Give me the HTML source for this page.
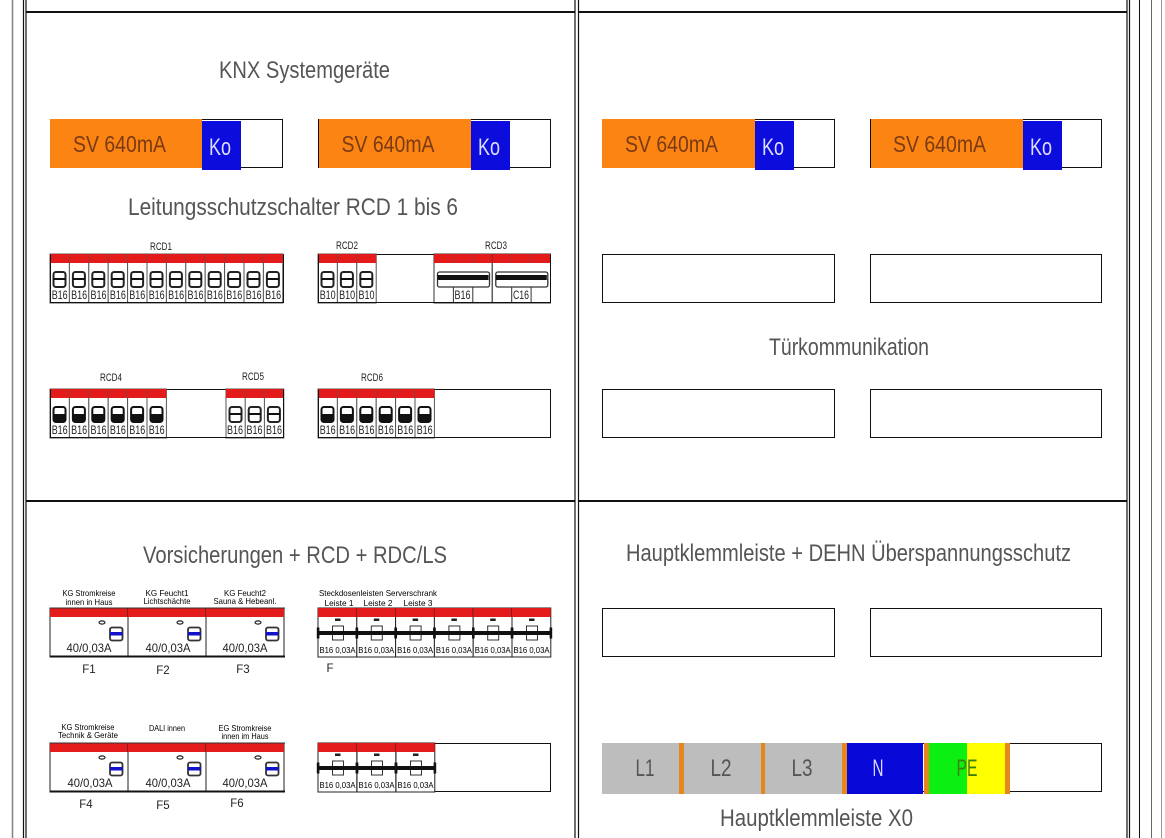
<!DOCTYPE html>
<html><head><meta charset="utf-8"><title>Verteilerplan</title>
<style>
html,body{margin:0;padding:0;background:#fff}
svg{display:block}
text{font-family:"Liberation Sans",sans-serif;text-anchor:middle;fill:#333}
.t{font-size:24px;fill:#555}
.sv{font-size:23px;fill:#7a3a14}
.ko{font-size:24px;fill:#dcdcff}
.s{font-size:11.5px;fill:#222}
.m{font-size:11px;fill:#222}
.tiny{font-size:8.5px;fill:#000}
.v{font-size:12px;fill:#222}
.f{font-size:11.5px;fill:#222}
.kl{font-size:24px;fill:#555}
</style></head>
<body>
<svg width="1165" height="838" viewBox="0 0 1165 838" xmlns="http://www.w3.org/2000/svg">
<defs>
<g id="cell">
<rect x="0" y="0" width="19.4" height="49" fill="#fff" stroke="#555" stroke-width="1"/>
<rect x="0" y="0" width="19.4" height="9" fill="#e41b1b"/>
<rect x="3.5" y="18" width="12" height="15" rx="2.5" fill="#fff" stroke="#222" stroke-width="2"/>
<rect x="3.5" y="24" width="12" height="2" fill="#111"/>
</g>
<g id="cellb">
<rect x="0" y="0" width="19.4" height="49" fill="#fff" stroke="#555" stroke-width="1"/>
<rect x="0" y="0" width="19.4" height="9" fill="#e41b1b"/>
<rect x="3.5" y="18" width="12" height="15" rx="2.5" fill="#fff" stroke="#111" stroke-width="2"/>
<rect x="3.5" y="25" width="12" height="8" fill="#111"/>
</g>
<g id="long">
<rect x="0" y="0" width="58.2" height="49" fill="#fff" stroke="#333" stroke-width="1"/>
<rect x="0" y="0" width="58.2" height="9" fill="#e41b1b"/>
<path d="M19.4 0V9M38.8 0V9" stroke="#a33" stroke-width="1"/>
<path d="M19.4 33V49M38.8 33V49" stroke="#333" stroke-width="1"/>
<rect x="3.5" y="18" width="52" height="15" rx="2" fill="#fff" stroke="#333" stroke-width="1.3"/>
<rect x="3.5" y="21" width="51" height="5" fill="#111"/>
</g>
<g id="rcd">
<rect x="0" y="0" width="78" height="49" fill="#fff" stroke="#222" stroke-width="1"/>
<rect x="0" y="0" width="78" height="9" fill="#e41b1b"/>
<ellipse cx="52" cy="14.5" rx="3" ry="1.6" fill="#fff" stroke="#222" stroke-width="1.2"/>
<rect x="60" y="19.5" width="12.5" height="13" rx="2" fill="#fff" stroke="#333" stroke-width="1.8"/>
<rect x="60" y="24" width="12.5" height="3.5" fill="#1212c8"/>
</g>
<g id="ls">
<rect x="0" y="0" width="38.8" height="49" fill="#fff" stroke="#222" stroke-width="1"/>
<rect x="0" y="0" width="38.8" height="9" fill="#e41b1b"/>
<rect x="17" y="10.5" width="5.5" height="2.5" fill="#222"/>
<rect x="14.5" y="18" width="11" height="14" fill="#fff" stroke="#333" stroke-width="1"/>
<rect x="0" y="23" width="38.8" height="4" fill="#111"/>
<rect x="-1.2" y="19.5" width="2.6" height="11" fill="#111"/>
<rect x="37.6" y="19.5" width="2.6" height="11" fill="#111"/>
</g>
</defs>

<!-- frame -->
<g fill="none" stroke="#111">
<path d="M12.5 0V838" stroke="#888" stroke-width="1.6"/>
<path d="M23.5 0V838M26 0V838" stroke-width="1.2"/>
<path d="M575 0V838M578.5 0V838" stroke-width="1.2"/>
<path d="M1127 0V838M1129.5 0V838" stroke-width="1.2"/>
<path d="M1139.5 0V838" stroke-width="1"/>
<path d="M1151.5 0V838" stroke="#666" stroke-width="1"/>
<path d="M1161.5 0V838" stroke="#999" stroke-width="1"/>
<path d="M26 12H575M578 12H1127M26 501H575M578 501H1127" stroke-width="2"/>
</g>

<!-- boxes -->
<g fill="#fff" stroke="#111" stroke-width="1">
<rect x="50.5" y="119.5" width="232" height="48"/>
<rect x="318.5" y="119.5" width="232" height="48"/>
<rect x="602.5" y="119.5" width="232" height="48"/>
<rect x="870.5" y="119.5" width="231" height="48"/>
<rect x="602.5" y="254.5" width="232" height="48"/>
<rect x="870.5" y="254.5" width="231" height="48"/>
<rect x="602.5" y="389.5" width="232" height="48"/>
<rect x="870.5" y="389.5" width="231" height="48"/>
<rect x="602.5" y="608.5" width="232" height="48"/>
<rect x="870.5" y="608.5" width="231" height="48"/>
<rect x="50.5" y="254.5" width="233" height="48"/>
<rect x="318.5" y="254.5" width="232" height="48"/>
<rect x="50.5" y="389.5" width="233" height="48"/>
<rect x="318.5" y="389.5" width="232" height="48"/>
<rect x="318.5" y="608.5" width="232" height="48"/>
<rect x="318.5" y="743.5" width="232" height="48"/>
<rect x="602.5" y="743.5" width="499" height="48"/>
</g>
<g fill="#fb8412">
<rect x="50" y="119" width="152" height="49"/>
<rect x="319" y="119" width="152" height="49"/>
<rect x="602" y="119" width="153" height="49"/>
<rect x="871" y="119" width="152" height="49"/>
</g>
<g fill="#0c0cdc">
<rect x="202" y="121" width="39" height="49"/>
<rect x="471" y="121" width="39" height="49"/>
<rect x="755" y="121" width="39" height="49"/>
<rect x="1023" y="121" width="39" height="49"/>
</g>

<!-- titles -->
<text class="t" x="304.5" y="78" textLength="171" lengthAdjust="spacingAndGlyphs">KNX Systemgeräte</text>
<text class="t" x="293" y="215" textLength="330" lengthAdjust="spacingAndGlyphs">Leitungsschutzschalter RCD 1 bis 6</text>
<text class="t" x="849" y="355" textLength="160" lengthAdjust="spacingAndGlyphs">Türkommunikation</text>
<text class="t" x="295" y="563" textLength="304" lengthAdjust="spacingAndGlyphs">Vorsicherungen + RCD + RDC/LS</text>
<text class="t" x="848.5" y="561" textLength="445" lengthAdjust="spacingAndGlyphs">Hauptklemmleiste + DEHN Überspannungsschutz</text>
<text class="t" x="816.5" y="826" textLength="193" lengthAdjust="spacingAndGlyphs">Hauptklemmleiste X0</text>

<text class="sv" x="119.5" y="152" textLength="93" lengthAdjust="spacingAndGlyphs">SV 640mA</text>
<text class="sv" x="388" y="152" textLength="93" lengthAdjust="spacingAndGlyphs">SV 640mA</text>
<text class="sv" x="671.5" y="152" textLength="93" lengthAdjust="spacingAndGlyphs">SV 640mA</text>
<text class="sv" x="939.5" y="152" textLength="93" lengthAdjust="spacingAndGlyphs">SV 640mA</text>
<text class="ko" x="220" y="155" textLength="22" lengthAdjust="spacingAndGlyphs">Ko</text>
<text class="ko" x="489" y="155" textLength="22" lengthAdjust="spacingAndGlyphs">Ko</text>
<text class="ko" x="773" y="155" textLength="22" lengthAdjust="spacingAndGlyphs">Ko</text>
<text class="ko" x="1041" y="155" textLength="22" lengthAdjust="spacingAndGlyphs">Ko</text>

<!-- RCD1 -->
<use href="#cell" x="50" y="254"/><use href="#cell" x="69.4" y="254"/><use href="#cell" x="88.8" y="254"/><use href="#cell" x="108.2" y="254"/><use href="#cell" x="127.6" y="254"/><use href="#cell" x="147" y="254"/><use href="#cell" x="166.4" y="254"/><use href="#cell" x="185.8" y="254"/><use href="#cell" x="205.2" y="254"/><use href="#cell" x="224.6" y="254"/><use href="#cell" x="244" y="254"/><use href="#cell" x="263.4" y="254"/>
<text class="m" x="161" y="250" textLength="22" lengthAdjust="spacingAndGlyphs">RCD1</text>
<text class="s" x="59.7" y="299" textLength="16" lengthAdjust="spacingAndGlyphs">B16</text>
<text class="s" x="79.1" y="299" textLength="16" lengthAdjust="spacingAndGlyphs">B16</text>
<text class="s" x="98.5" y="299" textLength="16" lengthAdjust="spacingAndGlyphs">B16</text>
<text class="s" x="117.9" y="299" textLength="16" lengthAdjust="spacingAndGlyphs">B16</text>
<text class="s" x="137.3" y="299" textLength="16" lengthAdjust="spacingAndGlyphs">B16</text>
<text class="s" x="156.7" y="299" textLength="16" lengthAdjust="spacingAndGlyphs">B16</text>
<text class="s" x="176.1" y="299" textLength="16" lengthAdjust="spacingAndGlyphs">B16</text>
<text class="s" x="195.5" y="299" textLength="16" lengthAdjust="spacingAndGlyphs">B16</text>
<text class="s" x="214.9" y="299" textLength="16" lengthAdjust="spacingAndGlyphs">B16</text>
<text class="s" x="234.3" y="299" textLength="16" lengthAdjust="spacingAndGlyphs">B16</text>
<text class="s" x="253.7" y="299" textLength="16" lengthAdjust="spacingAndGlyphs">B16</text>
<text class="s" x="273.1" y="299" textLength="16" lengthAdjust="spacingAndGlyphs">B16</text>

<!-- RCD2 / RCD3 -->
<use href="#cell" x="318" y="254"/><use href="#cell" x="337.4" y="254"/><use href="#cell" x="356.8" y="254"/>
<text class="m" x="347" y="249" textLength="22" lengthAdjust="spacingAndGlyphs">RCD2</text>
<text class="s" x="327.7" y="299" textLength="16" lengthAdjust="spacingAndGlyphs">B10</text>
<text class="s" x="347.1" y="299" textLength="16" lengthAdjust="spacingAndGlyphs">B10</text>
<text class="s" x="366.5" y="299" textLength="16" lengthAdjust="spacingAndGlyphs">B10</text>
<use href="#long" x="434" y="254"/><use href="#long" x="492.3" y="254"/>
<text class="m" x="496" y="249" textLength="22" lengthAdjust="spacingAndGlyphs">RCD3</text>
<text class="s" x="462.5" y="299" textLength="16" lengthAdjust="spacingAndGlyphs">B16</text>
<text class="s" x="521" y="299" textLength="16" lengthAdjust="spacingAndGlyphs">C16</text>

<!-- RCD4 / RCD5 -->
<use href="#cellb" x="50" y="389"/><use href="#cellb" x="69.4" y="389"/><use href="#cellb" x="88.8" y="389"/><use href="#cellb" x="108.2" y="389"/><use href="#cellb" x="127.6" y="389"/><use href="#cellb" x="147" y="389"/>
<use href="#cell" x="226" y="389"/><use href="#cell" x="245.2" y="389"/><use href="#cell" x="264.4" y="389"/>
<text class="m" x="111" y="381" textLength="22" lengthAdjust="spacingAndGlyphs">RCD4</text>
<text class="m" x="253" y="380" textLength="22" lengthAdjust="spacingAndGlyphs">RCD5</text>
<text class="s" x="59.7" y="434" textLength="16" lengthAdjust="spacingAndGlyphs">B16</text>
<text class="s" x="79.1" y="434" textLength="16" lengthAdjust="spacingAndGlyphs">B16</text>
<text class="s" x="98.5" y="434" textLength="16" lengthAdjust="spacingAndGlyphs">B16</text>
<text class="s" x="117.9" y="434" textLength="16" lengthAdjust="spacingAndGlyphs">B16</text>
<text class="s" x="137.3" y="434" textLength="16" lengthAdjust="spacingAndGlyphs">B16</text>
<text class="s" x="156.7" y="434" textLength="16" lengthAdjust="spacingAndGlyphs">B16</text>
<text class="s" x="235" y="434" textLength="16" lengthAdjust="spacingAndGlyphs">B16</text>
<text class="s" x="254.5" y="434" textLength="16" lengthAdjust="spacingAndGlyphs">B16</text>
<text class="s" x="274" y="434" textLength="16" lengthAdjust="spacingAndGlyphs">B16</text>

<!-- RCD6 -->
<use href="#cellb" x="318" y="389"/><use href="#cellb" x="337.4" y="389"/><use href="#cellb" x="356.8" y="389"/><use href="#cellb" x="376.2" y="389"/><use href="#cellb" x="395.6" y="389"/><use href="#cellb" x="415" y="389"/>
<text class="m" x="372" y="381" textLength="22" lengthAdjust="spacingAndGlyphs">RCD6</text>
<text class="s" x="327.7" y="434" textLength="16" lengthAdjust="spacingAndGlyphs">B16</text>
<text class="s" x="347.1" y="434" textLength="16" lengthAdjust="spacingAndGlyphs">B16</text>
<text class="s" x="366.5" y="434" textLength="16" lengthAdjust="spacingAndGlyphs">B16</text>
<text class="s" x="385.9" y="434" textLength="16" lengthAdjust="spacingAndGlyphs">B16</text>
<text class="s" x="405.3" y="434" textLength="16" lengthAdjust="spacingAndGlyphs">B16</text>
<text class="s" x="424.7" y="434" textLength="16" lengthAdjust="spacingAndGlyphs">B16</text>

<!-- crisp black outer edges over the breaker rows -->
<g fill="none" stroke="#111" stroke-width="1">
<path d="M50.5 254.5V302.5H283.5V254.5"/>
<path d="M318.5 254.5V302.5H550.5V254.5"/>
<path d="M50.5 389.5V437.5H283.5V389.5"/>
<path d="M318.5 389.5V437.5H550.5V389.5"/>
</g>

<!-- F1-F3 -->
<use href="#rcd" x="50" y="608"/><use href="#rcd" x="128" y="608"/><use href="#rcd" x="206" y="608"/>
<path d="M50 656.5H285" stroke="#111" stroke-width="2"/><path d="M50 608H285" stroke="#333" stroke-width="1"/>
<text class="tiny" x="89" y="596" textLength="53" lengthAdjust="spacingAndGlyphs">KG Stromkreise</text>
<text class="tiny" x="89" y="605" textLength="47" lengthAdjust="spacingAndGlyphs">innen in Haus</text>
<text class="tiny" x="167" y="596" textLength="43" lengthAdjust="spacingAndGlyphs">KG Feucht1</text>
<text class="tiny" x="167" y="604" textLength="47" lengthAdjust="spacingAndGlyphs">Lichtschächte</text>
<text class="tiny" x="245" y="596" textLength="42" lengthAdjust="spacingAndGlyphs">KG Feucht2</text>
<text class="tiny" x="245" y="604" textLength="63" lengthAdjust="spacingAndGlyphs">Sauna &amp; Hebeanl.</text>
<text class="v" x="89" y="652" textLength="45" lengthAdjust="spacingAndGlyphs">40/0,03A</text>
<text class="v" x="168" y="652" textLength="45" lengthAdjust="spacingAndGlyphs">40/0,03A</text>
<text class="v" x="245" y="652" textLength="45" lengthAdjust="spacingAndGlyphs">40/0,03A</text>
<text class="f" x="89" y="673">F1</text>
<text class="f" x="163" y="674">F2</text>
<text class="f" x="243" y="673">F3</text>

<!-- Steckdosen -->
<use href="#ls" x="318" y="608"/><use href="#ls" x="356.8" y="608"/><use href="#ls" x="395.6" y="608"/><use href="#ls" x="434.4" y="608"/><use href="#ls" x="473.2" y="608"/><use href="#ls" x="512" y="608"/>
<text class="tiny" x="378" y="596" textLength="118" lengthAdjust="spacingAndGlyphs">Steckdosenleisten Serverschrank</text>
<text class="tiny" x="339" y="606" textLength="29" lengthAdjust="spacingAndGlyphs">Leiste 1</text>
<text class="tiny" x="378" y="606" textLength="29" lengthAdjust="spacingAndGlyphs">Leiste 2</text>
<text class="tiny" x="418" y="606" textLength="29" lengthAdjust="spacingAndGlyphs">Leiste 3</text>
<text class="tiny" x="337.5" y="653" textLength="36" lengthAdjust="spacingAndGlyphs">B16 0,03A</text>
<text class="tiny" x="376.3" y="653" textLength="36" lengthAdjust="spacingAndGlyphs">B16 0,03A</text>
<text class="tiny" x="415.1" y="653" textLength="36" lengthAdjust="spacingAndGlyphs">B16 0,03A</text>
<text class="tiny" x="453.9" y="653" textLength="36" lengthAdjust="spacingAndGlyphs">B16 0,03A</text>
<text class="tiny" x="492.7" y="653" textLength="36" lengthAdjust="spacingAndGlyphs">B16 0,03A</text>
<text class="tiny" x="531.5" y="653" textLength="36" lengthAdjust="spacingAndGlyphs">B16 0,03A</text>
<text class="f" x="330" y="672">F</text>

<!-- F4-F6 -->
<use href="#rcd" x="50" y="743"/><use href="#rcd" x="128" y="743"/><use href="#rcd" x="206" y="743"/>
<path d="M50 791.5H285" stroke="#111" stroke-width="2"/><path d="M50 743H285" stroke="#333" stroke-width="1"/>
<text class="tiny" x="88" y="730" textLength="53" lengthAdjust="spacingAndGlyphs">KG Stromkreise</text>
<text class="tiny" x="88" y="738" textLength="60" lengthAdjust="spacingAndGlyphs">Technik &amp; Geräte</text>
<text class="tiny" x="167" y="731" textLength="36" lengthAdjust="spacingAndGlyphs">DALI innen</text>
<text class="tiny" x="245" y="731" textLength="53" lengthAdjust="spacingAndGlyphs">EG Stromkreise</text>
<text class="tiny" x="245" y="739" textLength="47" lengthAdjust="spacingAndGlyphs">innen im Haus</text>
<text class="v" x="90" y="787" textLength="45" lengthAdjust="spacingAndGlyphs">40/0,03A</text>
<text class="v" x="168" y="787" textLength="45" lengthAdjust="spacingAndGlyphs">40/0,03A</text>
<text class="v" x="245" y="787" textLength="45" lengthAdjust="spacingAndGlyphs">40/0,03A</text>
<text class="f" x="86" y="808">F4</text>
<text class="f" x="163" y="809">F5</text>
<text class="f" x="237" y="807">F6</text>

<use href="#ls" x="318" y="743"/><use href="#ls" x="357" y="743"/><use href="#ls" x="396" y="743"/>
<text class="tiny" x="337.5" y="788" textLength="36" lengthAdjust="spacingAndGlyphs">B16 0,03A</text>
<text class="tiny" x="376.5" y="788" textLength="36" lengthAdjust="spacingAndGlyphs">B16 0,03A</text>
<text class="tiny" x="415.5" y="788" textLength="36" lengthAdjust="spacingAndGlyphs">B16 0,03A</text>

<!-- Klemmleiste -->
<rect x="602" y="743" width="77" height="51" fill="#bdbdbd"/>
<rect x="684" y="743" width="77" height="51" fill="#bdbdbd"/>
<rect x="765" y="743" width="77" height="51" fill="#bdbdbd"/>
<rect x="679" y="743" width="5" height="51" fill="#e8861e"/>
<rect x="761" y="743" width="4" height="51" fill="#e8861e"/>
<rect x="842" y="743" width="5" height="51" fill="#e8861e"/>
<rect x="847" y="743" width="76" height="51" fill="#0808d8"/>
<rect x="924" y="743" width="5" height="51" fill="#e8861e"/>
<rect x="929" y="743" width="38" height="51" fill="#0bf010"/>
<rect x="967" y="743" width="38" height="51" fill="#ffff00"/>
<rect x="1005" y="743" width="5" height="51" fill="#e8861e"/>
<text class="kl" x="645" y="776" textLength="19" lengthAdjust="spacingAndGlyphs">L1</text>
<text class="kl" x="721" y="776" textLength="21" lengthAdjust="spacingAndGlyphs">L2</text>
<text class="kl" x="802" y="776" textLength="21" lengthAdjust="spacingAndGlyphs">L3</text>
<text class="kl" x="878" y="776" textLength="11" lengthAdjust="spacingAndGlyphs" style="fill:#d8d8ff">N</text>
<text class="kl" x="967" y="776" textLength="21" lengthAdjust="spacingAndGlyphs" style="fill:#3f7f10">PE</text>
</svg>
</body></html>
